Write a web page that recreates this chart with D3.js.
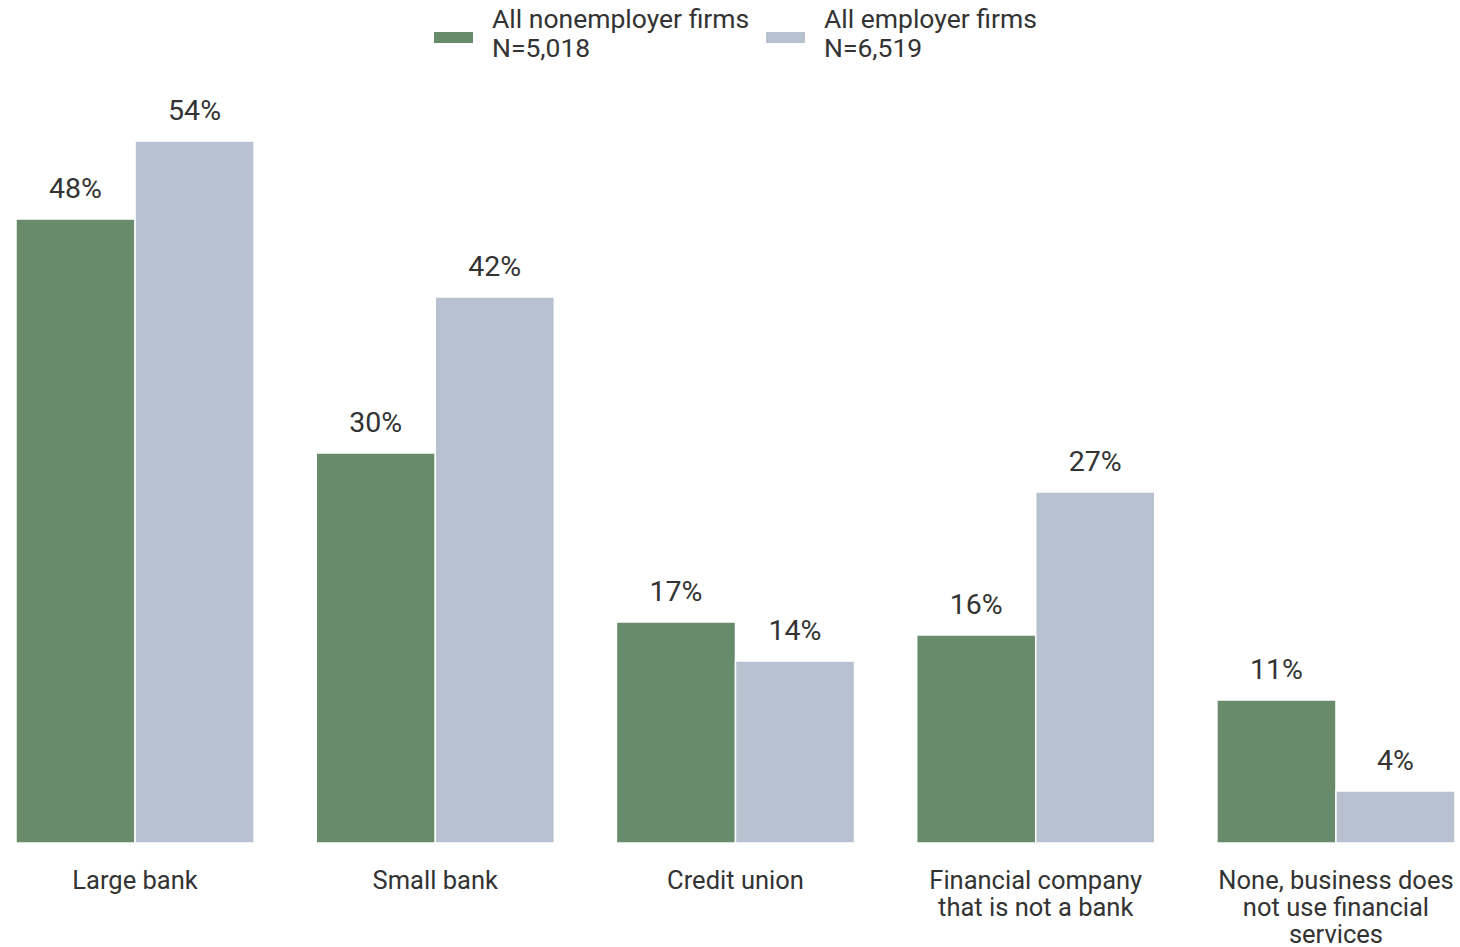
<!DOCTYPE html>
<html>
<head>
<meta charset="utf-8">
<script src="https://cdn.jsdelivr.net/npm/d3@7"></script>
<style>
  html, body { margin: 0; padding: 0; background: #fff; }
  svg { display: block; font-family: Roboto, "Noto Sans", sans-serif; }
</style>
</head>
<body>
<svg id="chart" width="1460" height="947"></svg>
<script>
// Financial service providers used, by firm type (percent)
const categories = [
  ["Large bank"],
  ["Small bank"],
  ["Credit union"],
  ["Financial company", "that is not a bank"],
  ["None, business does", "not use financial", "services"]
];
const seriesNames = ["All nonemployer firms", "All employer firms"];
const seriesN = ["N=5,018", "N=6,519"];
const nonemployer = [48, 30, 17, 16, 11];
const employer = [54, 42, 14, 27, 4];
const colors = ["#678b6b", "#b8c1cf"];

const svg = d3.select("#chart");
const baseline = 843;

const keys = categories.map(c => c.join(" "));
const x0 = d3.scaleBand().domain(keys).range([16, 1455]).paddingInner(0.207).paddingOuter(0);
const x1 = d3.scaleBand().domain([0, 1]).range([0, x0.bandwidth()]).padding(0);
const y = d3.scaleLinear().domain([0, 54]).range([baseline, 141]);

const rows = keys.map((k, i) => ({ key: k, lines: categories[i], vals: [nonemployer[i], employer[i]] }));

const groups = svg.append("g").selectAll("g")
  .data(rows).join("g")
  .attr("transform", d => `translate(${x0(d.key)},0)`);

groups.selectAll("rect")
  .data(d => d.vals.map((v, s) => ({ v, s })))
  .join("rect")
  .attr("x", d => x1(d.s))
  .attr("y", d => y(d.v))
  .attr("width", x1.bandwidth())
  .attr("height", d => baseline - y(d.v))
  .attr("fill", d => colors[d.s])
  .attr("stroke", "#ffffff")
  .attr("stroke-width", 1.5);

groups.selectAll("text.val")
  .data(d => d.vals.map((v, s) => ({ v, s })))
  .join("text")
  .attr("class", "val")
  .attr("x", d => x1(d.s) + x1.bandwidth() / 2)
  .attr("y", d => y(d.v) - 21)
  .attr("text-anchor", "middle")
  .attr("font-size", 28.5)
  .attr("fill", "#333333")
  .text(d => d.v + "%");

groups.append("text")
  .attr("class", "cat")
  .attr("x", x0.bandwidth() / 2)
  .attr("y", 889)
  .attr("text-anchor", "middle")
  .attr("font-size", 25.5)
  .attr("fill", "#333333")
  .selectAll("tspan")
  .data(d => d.lines)
  .join("tspan")
  .attr("x", x0.bandwidth() / 2)
  .attr("dy", (d, i) => i === 0 ? 0 : 27)
  .text(d => d);

// legend
const legendX = [434, 766];
const legend = svg.append("g").selectAll("g")
  .data(seriesNames).join("g")
  .attr("transform", (d, i) => `translate(${legendX[i]},0)`);
legend.append("rect")
  .attr("x", 0).attr("y", 32).attr("width", 39).attr("height", 11)
  .attr("fill", (d, i) => colors[i]);
legend.append("text")
  .attr("x", 58).attr("y", 28)
  .attr("font-size", 26.5).attr("fill", "#333333")
  .text(d => d);
legend.append("text")
  .attr("x", 58).attr("y", 57)
  .attr("font-size", 26.5).attr("fill", "#333333")
  .text((d, i) => seriesN[i]);
</script>
</body>
</html>
